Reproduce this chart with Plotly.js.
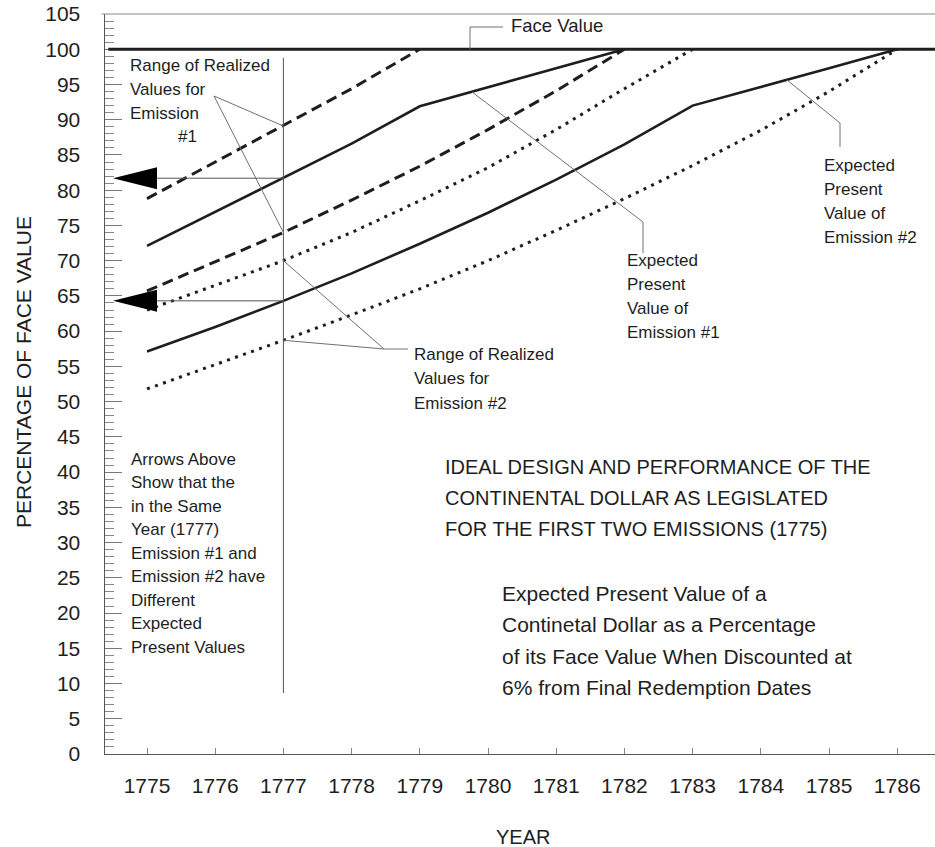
<!DOCTYPE html>
<html>
<head>
<meta charset="utf-8">
<script src="https://cdn.plot.ly/plotly-3.0.1.min.js"></script>
<style>html,body{margin:0;padding:0;background:#fff;}#chart{width:935px;height:847px;}</style>
</head>
<body>
<div id="chart"></div>
<script>
// ---- data ----
const years = [1775,1776,1777,1778,1779,1780,1781,1782,1783,1784,1785,1786];
const faceValue = 100;
const arrowYear = 1777;

const e1UpperYears = [1775,1776,1777,1778,1779];
const e1Upper = [78.8, 84.0, 89.1, 94.4, 100];
const e1LowerYears = [1775,1776,1777,1778,1779,1780,1781,1782];
const e1Lower = [65.7, 69.9, 74.0, 78.6, 83.4, 88.6, 94.1, 100];
const e1ExpYears = [1775,1776,1777,1778,1779,1780,1781,1782];
const e1Expected = [72.1, 76.9, 81.7, 86.6, 91.9, 94.6, 97.3, 100];

const e2UpperYears = [1775,1776,1777,1778,1779,1780,1781,1782,1783];
const e2Upper = [63.0, 66.5, 70.0, 74.0, 78.5, 83.2, 88.6, 94.4, 100];
const e2LowerYears = [1775,1776,1777,1778,1779,1780,1781,1782,1783,1784,1785,1786];
const e2Lower = [51.8, 55.2, 58.7, 62.3, 66.0, 70.0, 74.3, 78.8, 83.5, 88.5, 94.0, 100];
const e2ExpYears = [1775,1776,1777,1778,1779,1780,1781,1782,1783,1784,1785,1786];
const e2Expected = [57.1, 60.6, 64.3, 68.2, 72.4, 76.8, 81.5, 86.5, 92.0, 94.6, 97.3, 100];

const yTickVals = [0,5,10,15,20,25,30,35,40,45,50,55,60,65,70,75,80,85,90,95,100,105];
const xTickLabels = years.map(String);

// ---- layout helpers (pixel -> axis units) ----
const X0 = 1774.384, X1 = 1786.554;
const PX = px => X0 + (px - 105) * (X1 - X0) / 830;
const PY = py => (754 - py) * 105 / 740;
const at = (xs, ys, x) => ys[xs.indexOf(x)];

const INK = '#1e1e1e';
const LEAD = '#707070';
const FONT = '"Liberation Sans", Arial, Helvetica, sans-serif';

const solid = {color: INK, width: 2.6};
const dashed = {color: INK, width: 3, dash: '11px,6px'};
const dotted = {color: INK, width: 3, dash: '3px,5.5px'};

const traces = [
  {x: e1UpperYears, y: e1Upper, mode: 'lines', line: dashed},
  {x: e1LowerYears, y: e1Lower, mode: 'lines', line: dashed},
  {x: e1ExpYears, y: e1Expected, mode: 'lines', line: solid},
  {x: e2UpperYears, y: e2Upper, mode: 'lines', line: dotted},
  {x: e2LowerYears, y: e2Lower, mode: 'lines', line: dotted},
  {x: e2ExpYears, y: e2Expected, mode: 'lines', line: solid}
];

// arrowheads at the expected values in 1777
const arrowVals = [at(e1ExpYears, e1Expected, arrowYear), at(e2ExpYears, e2Expected, arrowYear)];
const tipX = PX(113), baseX = PX(157), halfH = 11 * 105 / 740;
arrowVals.forEach(v => {
  traces.push({x: [tipX, baseX, baseX, tipX], y: [v, v + halfH, v - halfH, v],
    mode: 'lines', fill: 'toself', fillcolor: '#000', line: {width: 0, color: '#000'}});
});

const shapes = [];
const seg = (xa, ya, xb, yb, color, width) => shapes.push({type: 'line', xref: 'x', yref: 'y',
  x0: xa, y0: ya, x1: xb, y1: yb, line: {color: color || LEAD, width: width || 1}});

// face value line
shapes.push({type: 'line', xref: 'paper', yref: 'y', x0: 0.004, x1: 1, y0: faceValue, y1: faceValue,
  line: {color: INK, width: 3.2}});
// top border
shapes.push({type: 'line', xref: 'paper', yref: 'paper', x0: -0.004, x1: 1, y0: 1, y1: 1,
  line: {color: '#8a8a8a', width: 1}});
// vertical line at 1777
seg(arrowYear, PY(58), arrowYear, PY(693), '#555', 1);
// arrow shafts
arrowVals.forEach(v => seg(baseX, v, arrowYear, v, '#555', 1));
// leader: Face Value
seg(PX(470), faceValue, PX(470), PY(27));
seg(PX(470), PY(27), PX(503), PY(27));
// leader: range emission #1
seg(PX(214), PY(96), arrowYear, at(e1UpperYears, e1Upper, arrowYear));
seg(PX(214), PY(96), arrowYear, at(e1LowerYears, e1Lower, arrowYear));
// leader: range emission #2
seg(PX(384), PY(349), arrowYear, at(e2UpperYears, e2Upper, arrowYear));
seg(PX(384), PY(349), arrowYear, at(e2LowerYears, e2Lower, arrowYear));
seg(PX(384), PY(349), PX(408), PY(349));
// leader: expected #1
seg(PX(472), PY(92), PX(643), PY(222));
seg(PX(643), PY(222), PX(643), PY(253));
// leader: expected #2
seg(PX(787), PY(80), PX(840), PY(123));
seg(PX(840), PY(123), PX(840), PY(147));

const annotations = [];
const txt = (px, py, text, size, extra) => annotations.push(Object.assign({
  xref: 'paper', yref: 'paper', x: (px - 105) / 830, y: (754 - py) / 740, text: text, showarrow: false,
  xanchor: 'left', yanchor: 'middle', font: {family: FONT, size: size || 17, color: INK}
}, extra || {}));

txt(509, 26, 'Face Value', 18.5);
['Range of Realized', 'Values for', 'Emission'].forEach((t, i) => txt(128, 66 + i * 23.7, t));
txt(176, 137, '#1');
['Range of Realized', 'Values for', 'Emission #2'].forEach((t, i) => txt(412, 355 + i * 24, t));
['Expected', 'Present', 'Value of', 'Emission #1'].forEach((t, i) => txt(625, 260 + i * 24, t));
['Expected', 'Present', 'Value of', 'Emission #2'].forEach((t, i) => txt(822, 165 + i * 24, t));
['Arrows Above', 'Show that the', 'in the Same', 'Year (1777)', 'Emission #1 and',
 'Emission #2 have', 'Different', 'Expected', 'Present Values'].forEach((t, i) => txt(129, 459 + i * 23.5, t));
['IDEAL DESIGN AND PERFORMANCE OF THE', 'CONTINENTAL DOLLAR AS LEGISLATED',
 'FOR THE FIRST TWO EMISSIONS (1775)'].forEach((t, i) => txt(443, 467 + i * 31, t, 20));
['Expected Present Value of a', 'Continetal Dollar as a Percentage',
 'of its Face Value When Discounted at', '6% from Final Redemption Dates'].forEach((t, i) => txt(500, 593 + i * 31.5, t, 21));

// axis titles
txt(23, 372, 'PERCENTAGE OF FACE VALUE', 21, {textangle: -90, xanchor: 'center'});
txt(523, 837, 'YEAR', 20, {xanchor: 'center'});

const layout = {
  width: 935, height: 847,
  margin: {l: 105, r: 0, t: 14, b: 93, pad: 0},
  paper_bgcolor: '#fff', plot_bgcolor: '#fff',
  showlegend: false,
  font: {family: FONT, color: INK},
  xaxis: {range: [X0, X1], tickvals: years, ticktext: xTickLabels, ticks: 'inside', ticklen: 6,
    tickcolor: '#888', tickwidth: 1, showline: true, linecolor: '#555', linewidth: 1.3,
    showgrid: false, zeroline: false, ticklabelstandoff: 12,
    tickfont: {family: FONT, size: 21, color: INK}},
  yaxis: {range: [0, 105], tickvals: yTickVals, ticks: 'inside', ticklen: 17,
    tickcolor: '#777', tickwidth: 1, showline: true, linecolor: '#555', linewidth: 1.5,
    showgrid: false, zeroline: false, ticklabelstandoff: 19,
    minor: {dtick: 1, tick0: 0, ticks: 'inside', ticklen: 9, tickcolor: '#888', tickwidth: 1, showgrid: false},
    tickfont: {family: FONT, size: 21, color: INK}},
  shapes: shapes,
  annotations: annotations
};

Plotly.newPlot('chart', traces, layout, {displayModeBar: false, staticPlot: true});
</script>
</body>
</html>
